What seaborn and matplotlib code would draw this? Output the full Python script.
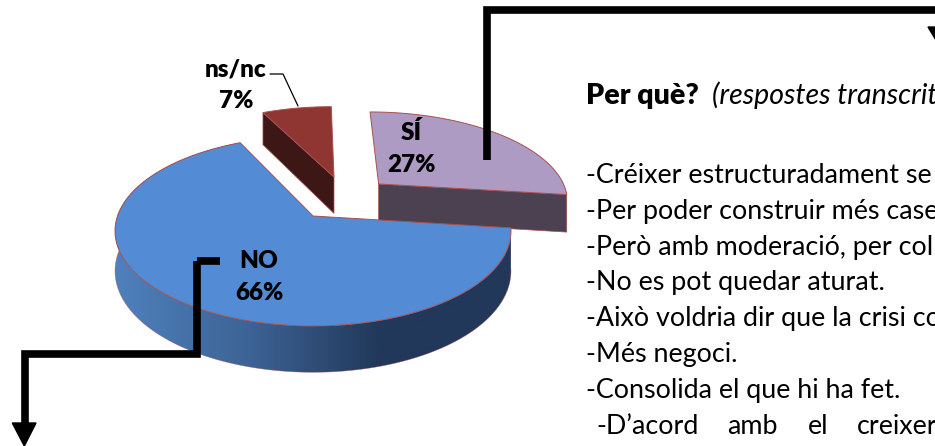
import numpy as np
import matplotlib
matplotlib.use("Agg")
import matplotlib.pyplot as plt
import seaborn as sns

# valors del pastís, en sentit horari des de dalt
labels = ["SÍ", "NO", "ns/nc"]
shares = [27, 66, 7]
share_labels = ["27%", "66%", "7%"]

title_bold = "Per què?"
title_italic = "(respostes transcrit"
answers = [
    "-Créixer estructuradament se",
    "-Per poder construir més case",
    "-Però amb moderació, per col",
    "-No es pot quedar aturat.",
    "-Això voldria dir que la crisi co",
    "-Més negoci.",
    "-Consolida el que hi ha fet.",
]
last_words = ["-D’acord", "amb", "el", "creixer"]

# perspectiva del pastís (pixels de la imatge)
CX, CY = 313, 216
A, B, K, DEPTH = 195.5, 92.6, 0.158, 39
OFFSETS = {"SÍ": (0.355, 0.366), "NO": (0, 0), "ns/nc": (0.115, 0.451)}
TOP_COLORS = {"SÍ": "#ae9bc3", "NO": "#538bd4", "ns/nc": "#8f3633"}
FACE_COLORS = {"SÍ": "#4b4150", "ns/nc": "#3d1716"}
EDGE = "#a8504f"
INK = "#000000"
FONT = "Lato"


def project(u, v, depth=0.0):
    w = 1 + K * v
    return CX + A * u / w, CY - B * v / w + depth * DEPTH / w


def arc(name, start, end, depth=0.0, n=120):
    t = np.radians(np.linspace(start, end, n))
    du, dv = OFFSETS[name]
    return project(du + np.sin(t), dv + np.cos(t), depth)


def apex(name, depth=0.0):
    du, dv = OFFSETS[name]
    return project(du, dv, depth)


def draw_top(ax, name, start, end, zorder):
    x, y = arc(name, start, end)
    ax0, ay0 = apex(name)
    ax.fill(np.r_[ax0, x], np.r_[ay0, y], color=TOP_COLORS[name], ec=EDGE, lw=0.7,
            joinstyle="miter", zorder=zorder)


def draw_radial_face(ax, name, angle, zorder):
    x0, y0 = apex(name)
    x1, y1 = apex(name, 1)
    t = np.radians(angle)
    du, dv = OFFSETS[name]
    x2, y2 = project(du + np.sin(t), dv + np.cos(t), 1)
    x3, y3 = project(du + np.sin(t), dv + np.cos(t))
    ax.fill([x0, x1, x2, x3], [y0, y1, y2, y3], color=FACE_COLORS[name], ec=EDGE, lw=0.5, zorder=zorder)


def draw_no_side(ax, start, end, zorder):
    x_top, y_top = arc("NO", start, end, 0, 240)
    x_bot, y_bot = arc("NO", start, end, 1, 240)
    ramp = sns.blend_palette(["#4f81bd", "#3d6496", "#21385a", "#21385a"], 256)
    band = ax.fill(np.r_[x_top, x_bot[::-1]], np.r_[y_top, y_bot[::-1]], color="none", lw=0, zorder=zorder)[0]
    img = ax.imshow(np.array(ramp)[None, :, :], extent=[115, 511, 446, 0], aspect="auto", zorder=zorder)
    img.set_clip_path(band)
    ax.plot(x_bot, y_bot, color=EDGE, lw=0.4, alpha=0.6, zorder=zorder)


def connector(ax, xs, ys):
    ax.plot(xs, ys, color=INK, lw=5.5, solid_joinstyle="miter", solid_capstyle="butt", zorder=10)


sns.set_theme(style="white")
plt.rcParams["font.family"] = [FONT, "DejaVu Sans"]

fig, ax = plt.subplots(figsize=(9.35, 4.46), dpi=100)
fig.subplots_adjust(0, 0, 1, 1)
ax.axis("off")

edges = np.cumsum([0] + shares) * 3.6
spans = {name: (edges[i], edges[i + 1]) for i, name in enumerate(labels)}

draw_radial_face(ax, "ns/nc", spans["ns/nc"][0], 1)
draw_top(ax, "ns/nc", *spans["ns/nc"], 2)
draw_radial_face(ax, "SÍ", spans["SÍ"][1], 1)
draw_top(ax, "SÍ", *spans["SÍ"], 2)
draw_no_side(ax, *spans["NO"], 3)
draw_top(ax, "NO", *spans["NO"], 4)

# etiquetes del pastís
label_pos = {"SÍ": (411, 140, 172), "NO": (259, 268, 300), "ns/nc": (236, 76, 108)}
for name, pct in zip(labels, share_labels):
    x, y1, y2 = label_pos[name]
    ax.text(x, y1, name, ha="center", va="baseline", fontsize=17.5, fontweight=800, color=INK, zorder=6)
    ax.text(x, y2, pct, ha="center", va="baseline", fontsize=17.5, fontweight=800, color=INK, zorder=6)
ax.plot([270, 283, 298], [74, 74, 106], color=INK, lw=0.9, zorder=6)

# fletxes
connector(ax, [486.5, 486.5, 960], [160, 10, 10])
ax.fill([928, 968, 948], [27, 27, 60], color=INK, zorder=10)
connector(ax, [220, 196.5], [261, 261])
connector(ax, [196.5, 196.5, 24.5, 24.5], [261, 353.5, 353.5, 424])
ax.fill([12.3, 36, 24.3], [423, 423, 446], color=INK, zorder=10)

# text de la dreta
ax.text(586, 104, title_bold, fontsize=20.5, fontweight=800, va="baseline", color=INK)
ax.text(712, 104, title_italic, fontsize=20.5, style="italic", va="baseline", color=INK)
for i, line in enumerate(answers):
    ax.text(586, 182.7 + i * 35.9, line, fontsize=19.4, va="baseline", color=INK)
for word, x in zip(last_words, [596, 727, 808, 857]):
    ax.text(x, 434, word, fontsize=19.4, va="baseline", color=INK)

ax.set_xlim(0, 935)
ax.set_ylim(446, 0)

fig.savefig("out.png", dpi=100)
plt.close(fig)
